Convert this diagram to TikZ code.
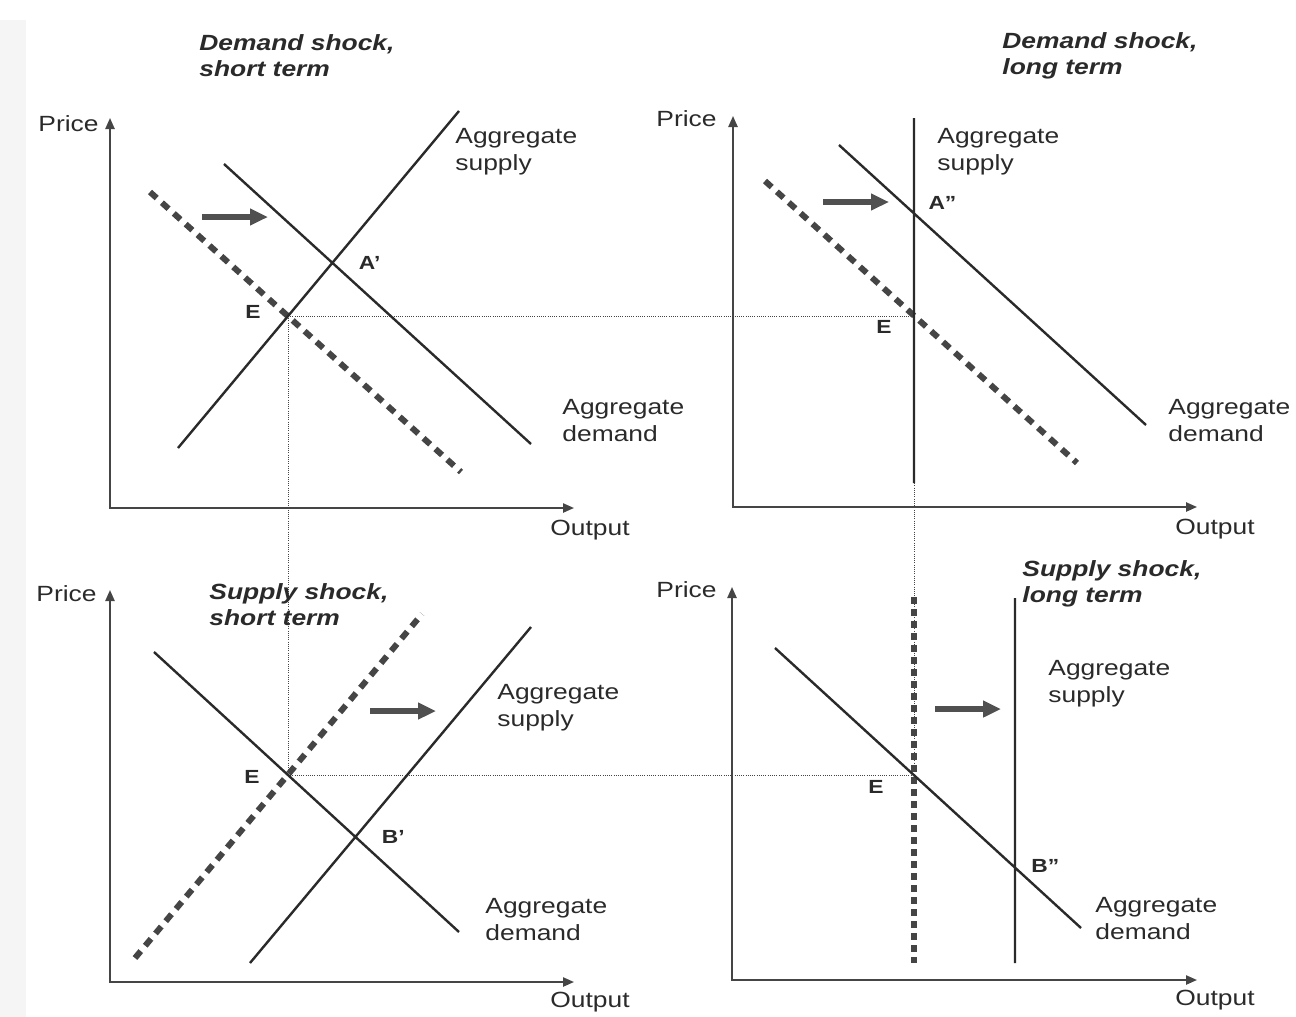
\documentclass[tikz,border=0pt]{standalone}
\usepackage{fontspec}
\setmainfont{Liberation Sans}[FakeStretch=1.2]
\usetikzlibrary{positioning, arrows.meta}
\definecolor{ink}{HTML}{2A2A2A}
\definecolor{axisgray}{HTML}{454545}
\definecolor{shiftgray}{HTML}{505050}

\begin{document}
\begin{tikzpicture}[x=0.5pt,y=-0.5pt,
    every node/.style={text=ink,inner sep=1pt,font=\fontsize{11}{13.5}\selectfont},
    axisline/.style={draw=axisgray,line width=0.9pt,{Triangle[length=5.5pt,width=4.6pt]}-{Triangle[length=5.5pt,width=4.6pt]}},
    aggline/.style={draw=ink,line width=1.2pt},
    oldline/.style={draw=axisgray,line width=3pt,dash pattern=on 4.5pt off 3.5pt},
    guideline/.style={draw=axisgray,line width=0.5pt,dash pattern=on 0.5pt off 0.6pt},
    shiftarrow/.style={draw=shiftgray,line width=3.3pt,-{Triangle[length=9pt,width=8pt]}},
    paneltitle/.style={anchor=west,align=left,font=\bfseries\itshape\fontsize{11}{13}\selectfont},
    curvelabel/.style={anchor=west,align=left},
    ptlabel/.style={font=\bfseries\fontsize{9.5}{11}\selectfont}]
  \useasboundingbox (0,0) rectangle (1296,1017);
  \fill[gray!8] (0,20) rectangle (26,1017);

  \coordinate (O1) at (110,508);  \coordinate (Y1) at (110,118);  \coordinate (X1) at (574,508);
  \coordinate (O2) at (733,507);  \coordinate (Y2) at (733,116);  \coordinate (X2) at (1197,507);
  \coordinate (O3) at (110,982);  \coordinate (Y3) at (110,590);  \coordinate (X3) at (574,982);
  \coordinate (O4) at (732,980);  \coordinate (Y4) at (732,587);  \coordinate (X4) at (1197,980);

  \coordinate (E1) at (288,316);  \coordinate (E2) at (914,316);
  \coordinate (E3) at (288,775);  \coordinate (E4) at (914,775);

  \coordinate (as1a) at (178,448);  \coordinate (as1b) at (459,111);
  \coordinate (ad1a) at (224,164);  \coordinate (ad1b) at (531,444);
  \coordinate (od1a) at (150,192);  \coordinate (od1b) at (461,472);
  \coordinate (s1a) at (202,217);   \coordinate (s1b) at (268,217);

  \coordinate (as2a) at (914,118);  \coordinate (as2b) at (914,483);
  \coordinate (ad2a) at (839,145);  \coordinate (ad2b) at (1146,425);
  \coordinate (od2a) at (765,181);  \coordinate (od2b) at (1077,463);
  \coordinate (s2a) at (823,202);   \coordinate (s2b) at (889,202);

  \coordinate (ad3a) at (154,652);  \coordinate (ad3b) at (459,932);
  \coordinate (as3a) at (250,963);  \coordinate (as3b) at (531,627);
  \coordinate (os3a) at (135,958);  \coordinate (os3b) at (422,614);
  \coordinate (s3a) at (370,711);   \coordinate (s3b) at (436,711);

  \coordinate (ad4a) at (775,648);  \coordinate (ad4b) at (1081,928);
  \coordinate (as4a) at (1015,598); \coordinate (as4b) at (1015,963);
  \coordinate (os4a) at (914,597);  \coordinate (os4b) at (914,963);
  \coordinate (s4a) at (935,709);   \coordinate (s4b) at (1001,709);

  \coordinate (A1) at (intersection of as1a--as1b and ad1a--ad1b);
  \coordinate (A2) at (intersection of as2a--as2b and ad2a--ad2b);
  \coordinate (B1) at (intersection of as3a--as3b and ad3a--ad3b);
  \coordinate (B2) at (intersection of as4a--as4b and ad4a--ad4b);

  \path[guideline] (E1) -- (E2)  (E1) -- (E3)  (E3) -- (E4)  (E2) -- (E4);

  \path[oldline] (od1a) -- (od1b)  (od2a) -- (od2b)  (os3a) -- (os3b);
  \path[oldline, dash pattern=on 3.5pt off 2.5pt] (os4a) -- (os4b);
  \path[aggline] (as1a) -- (as1b)  (ad1a) -- (ad1b)
                 (as2a) -- (as2b)  (ad2a) -- (ad2b)
                 (as3a) -- (as3b)  (ad3a) -- (ad3b)
                 (as4a) -- (as4b)  (ad4a) -- (ad4b);

  \foreach \p in {1,2,3,4}
    \draw[axisline] (Y\p) -- (O\p) -- (X\p);
  \foreach \p in {1,2,3,4}
    \draw[shiftarrow] (s\p a) -- (s\p b);

  \node (price1) [left=4.5pt of Y1, yshift=-3pt] {Price};
  \node (price2) [left=7pt of Y2, yshift=-1.5pt] {Price};
  \node (price3) [left=5.5pt of Y3, yshift=-2pt] {Price};
  \node (price4) [left=6.5pt of Y4, yshift=-1.5pt] {Price};
  \node (output1) [below=5pt of X1, xshift=8pt] {Output};
  \node (output2) [below=5pt of X2, xshift=9pt] {Output};
  \node (output3) [below=4pt of X3, xshift=8pt] {Output};
  \node (output4) [below=4pt of X4, xshift=9pt] {Output};

  \node (title1) [paneltitle] at (197,56) {Demand shock,\\short term};
  \node (title2) [paneltitle] at (1000,56) {Demand shock,\\long term};
  \node (title3) [paneltitle] at (207,605) {Supply shock,\\short term};
  \node (title4) [paneltitle] at (1020,584) {Supply shock,\\long term};

  \node (supply1) [curvelabel] at (453,152) {Aggregate\\supply};
  \node (demand1) [curvelabel] at (560,421) {Aggregate\\demand};
  \node (supply2) [curvelabel] at (935,152) {Aggregate\\supply};
  \node (demand2) [curvelabel] at (1166,421) {Aggregate\\demand};
  \node (supply3) [curvelabel] at (495,708) {Aggregate\\supply};
  \node (demand3) [curvelabel] at (483,920) {Aggregate\\demand};
  \node (supply4) [curvelabel] at (1046,684) {Aggregate\\supply};
  \node (demand4) [curvelabel] at (1093,919) {Aggregate\\demand};

  \node (labA1) [ptlabel, right=12pt of A1] {A’};
  \node (labA2) [ptlabel, right=6pt of A2, yshift=5pt] {A”};
  \node (labB1) [ptlabel, right=12pt of B1] {B’};
  \node (labB2) [ptlabel, right=7pt of B2, yshift=1pt] {B”};
  \node (labE1) [ptlabel, left=12.5pt of E1, yshift=2pt] {E};
  \node (labE2) [ptlabel, left=10pt of E2, yshift=-5.5pt] {E};
  \node (labE3) [ptlabel, left=13pt of E3, yshift=-1pt] {E};
  \node (labE4) [ptlabel, left=14pt of E4, yshift=-6pt] {E};
\end{tikzpicture}
\end{document}
